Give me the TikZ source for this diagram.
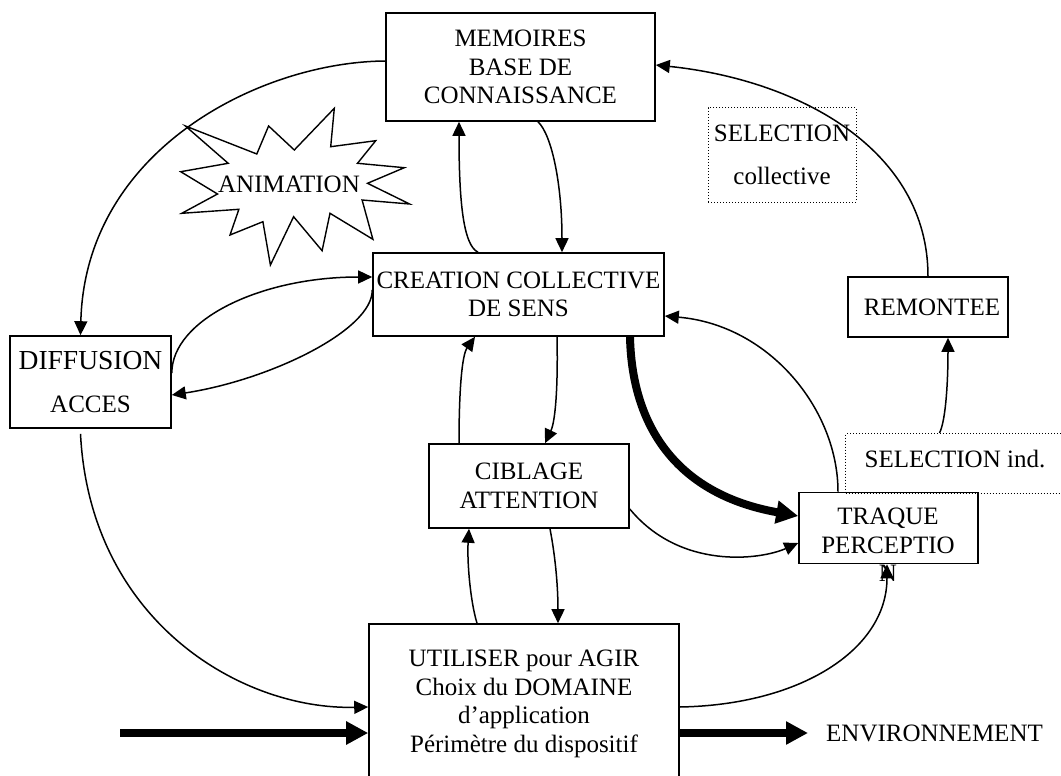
\documentclass[tikz,border=0pt]{standalone}
\usepackage{fontspec}
\setmainfont{Liberation Serif}
\usetikzlibrary{arrows.meta,calc}
\begin{document}
\begin{tikzpicture}[x=1pt,y=-1pt,
  box/.style={draw,line width=1.6pt,inner sep=0pt,align=center,
    font=\fontsize{25}{28.5}\selectfont},
  dotbox/.style={draw,line width=1pt,dotted,inner sep=0pt,align=center,
    font=\fontsize{25}{28.5}\selectfont},
  txt/.style={inner sep=0pt,align=center,font=\fontsize{25}{28.5}\selectfont},
  link/.style={line width=1.5pt,-{Triangle[length=14pt,width=13pt]}},
  bold/.style={line width=8pt,-{Triangle[length=22pt,width=22pt]}}]
\useasboundingbox (0,0) rectangle (1061,776);

% boxes
\node[box,minimum width=269,minimum height=108] (mem) at (520.5,67)
  {MEMOIRES\\BASE DE\\CONNAISSANCE};
\node[box,minimum width=291,minimum height=83] (crea) at (518.5,294.5)
  {CREATION COLLECTIVE\\DE SENS};
\node[box,minimum width=161,minimum height=92] (diff) at (90.5,382)
  {{\fontsize{27.5}{30}\selectfont DIFFUSION}\\[15pt]ACCES};
\node[box,minimum width=200,minimum height=84] (cib) at (529,486)
  {CIBLAGE\\ATTENTION};
\node[box,minimum width=179,minimum height=71] (traq) at (888.5,528) {};
\node[txt] (traqtxt) at (888,545) {TRAQUE\\PERCEPTIO\\N};
\node[box,minimum width=310,minimum height=160] (util) at (524,704)
  {UTILISER pour AGIR\\Choix du DOMAINE\\d’application\\Périmètre du dispositif};
\node[box,minimum width=160,minimum height=60] (rem) at (928,307) {\hspace*{8pt}REMONTEE};
\node[dotbox,minimum width=148,minimum height=94] (selc) at (782,155)
  {SELECTION\\[15pt]collective};
\node[dotbox,minimum width=235,minimum height=60,anchor=north west] (seli) at (845,433) {};
\node[txt] (selitxt) at (955,459) {SELECTION ind.};
\node[txt,anchor=west] (env) at (826,733) {ENVIRONNEMENT};
\coordinate (in) at (120,733);

% star
\draw[line width=1.4pt,line join=miter,fill=white]
  (185.4,126) -- (256.8,154) -- (268.6,126) -- (294.3,150) -- (334.3,108.3)
  -- (330.7,146.7) -- (375.7,140.7) -- (357.5,163.3) -- (404.3,167.7)
  -- (367.5,183.3) -- (409.6,204) -- (362.1,200) -- (372.9,239.3)
  -- (330,213.3) -- (322.1,250.7) -- (293.6,216.7) -- (270.4,265)
  -- (262.9,221.7) -- (230,235) -- (238.9,209.3) -- (181.8,213.3)
  -- (217.5,194) -- (180.7,171.7) -- (228.2,163.3) -- cycle;
\node[txt] (anim) at (289,184) {ANIMATION};

% connectors
\draw[link] ([yshift=6pt]mem.west) .. controls (260,62) and (85,150) .. ([xshift=-10pt]diff.north);
\draw[link] ([xshift=-40.5pt]crea.north) .. controls (463,245) and (459,200) .. ([xshift=-61.5pt]mem.south);
\draw[link] ([xshift=17.5pt]mem.south) .. controls (552,135) and (562,185) .. ([xshift=43.5pt]crea.north);
\draw[link] ([yshift=9pt]diff.east) .. controls (172,320) and (260,277) .. ([yshift=17.5pt]crea.west);
\draw[link] ([yshift=4.5pt]crea.west) .. controls (373,330) and (270,380) .. ([yshift=-13pt]diff.east);
\draw[link] ([xshift=-10pt,yshift=-5pt]diff.south) .. controls (90,620) and (240,710) .. ([yshift=-3pt]util.west);
\draw[bold] (in) -- ([yshift=-29pt]util.west);
\draw[bold] ([yshift=-29pt]util.east) -- ([xshift=-18pt]env.west);
\draw[link] ([xshift=-47pt]util.north) .. controls (470,600) and (467,560) .. ([xshift=-60pt]cib.south);
\draw[link] ([xshift=21pt]cib.south) .. controls (556,560) and (558,590) .. ([xshift=34pt]util.north);
\draw[link] ([xshift=-70pt]cib.north) .. controls (459,390) and (462,355) .. ([xshift=-43.5pt]crea.south);
\draw[link] ([xshift=38.5pt]crea.south) .. controls (558,380) and (556,420) .. ([xshift=16pt]cib.north);
\draw[bold] ([xshift=111.5pt]crea.south) .. controls (632,430) and (680,495) .. ([yshift=12pt]traq.west);
\draw[link] ([xshift=-50.5pt]traq.north) .. controls (838,410) and (770,325) .. ([yshift=-21.5pt]crea.east);
\draw[link] ([yshift=-23pt]cib.east) .. controls (680,570) and (760,560) .. ([yshift=-15pt]traq.west);
\draw[link] ([yshift=-3pt]util.east) .. controls (800,705) and (887,650) .. ([xshift=-1.5pt]traq.south);
\draw[link] ([xshift=-23.5pt]seli.north) .. controls (946,420) and (948,380) .. ([xshift=20pt]rem.south);
\draw[link] (rem.north) .. controls (928,150) and (800,80) .. ([yshift=2pt]mem.east);
\end{tikzpicture}
\end{document}
